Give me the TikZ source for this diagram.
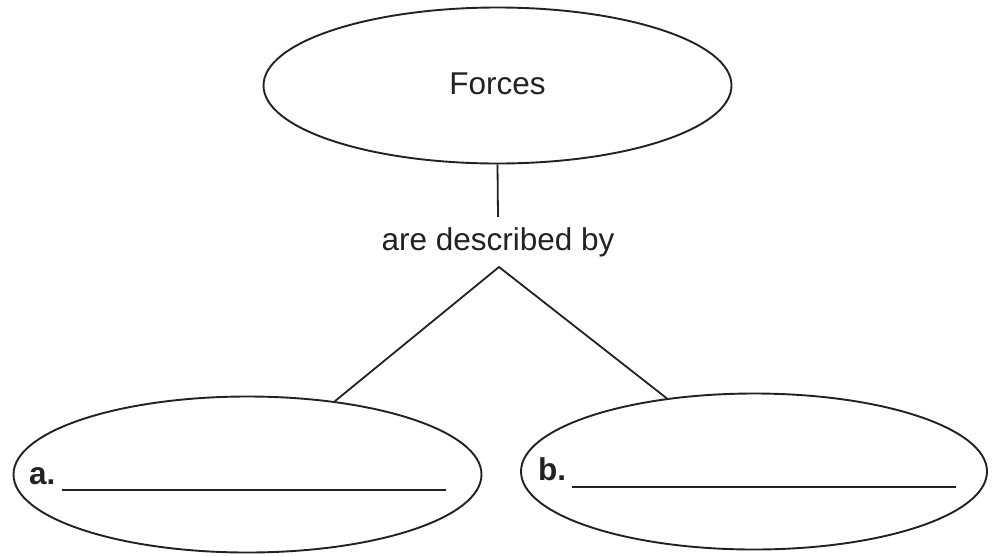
\documentclass[tikz,border=0pt]{standalone}
\usepackage{fontspec}
\setmainfont{Liberation Sans}
\usetikzlibrary{shapes.geometric}
\definecolor{ink}{HTML}{222222}
\tikzset{
  oval/.style={ellipse, draw=ink, line width=1.9pt, inner sep=0pt, minimum width=468pt, minimum height=156pt},
  lbl/.style={text=ink, inner sep=0pt, font=\fontsize{31.5}{36}\selectfont},
  conn/.style={draw=ink, line width=1.8pt},
  blank/.style={draw=ink, line width=1.8pt}
}
\begin{document}
\begin{tikzpicture}[x=1pt, y=-1pt]
\useasboundingbox (0,0) rectangle (992,555);
\fill[white] (0,0) rectangle (992,555);
% top ellipse
\node[oval] (forces) at (497.5,85.5) {};
\node[lbl, anchor=base] (forcestxt) at (497.5,94) {Forces};
% linking phrase
\node[lbl, anchor=base, inner ysep=10pt] (desc) at (498,250) {are described by};
% bottom ellipses
\node[oval] (ea) at (247.5,474.5) {};
\node[oval, minimum width=466pt] (eb) at (754,471.5) {};
% connectors
\draw[conn] (forces.south) -- (desc.north);
\coordinate (apex) at (499,267);
\draw[conn] (ea.40) -- (apex) -- (eb.140);
% labels with blanks
\node[lbl, anchor=base west, font=\fontsize{31.5}{36}\selectfont\bfseries] (la) at (29,484) {a.};
\draw[blank] (62,490) -- (446,490);
\node[lbl, anchor=base west, font=\fontsize{31.5}{36}\selectfont\bfseries] (lb) at (538,480) {b.};
\draw[blank] (572,487) -- (956,487);
\end{tikzpicture}
\end{document}
